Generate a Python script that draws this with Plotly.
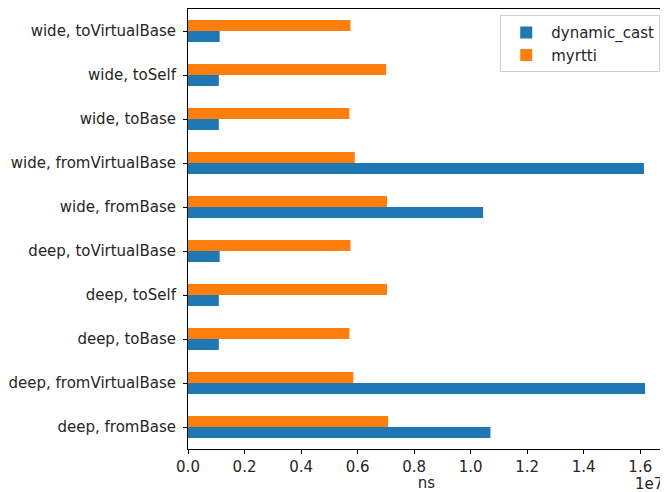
import plotly.graph_objects as go

categories = ["deep, fromBase", "deep, fromVirtualBase", "deep, toBase", "deep, toSelf",
              "deep, toVirtualBase", "wide, fromBase", "wide, fromVirtualBase", "wide, toBase",
              "wide, toSelf", "wide, toVirtualBase"]
dynamic_cast = [1.070e7, 1.617e7, 0.109e7, 0.109e7, 0.112e7,
                1.044e7, 1.613e7, 0.109e7, 0.109e7, 0.112e7]
myrtti = [0.708e7, 0.585e7, 0.571e7, 0.704e7, 0.575e7,
          0.704e7, 0.590e7, 0.571e7, 0.701e7, 0.575e7]
tick_vals = [0, 0.2e7, 0.4e7, 0.6e7, 0.8e7, 1.0e7, 1.2e7, 1.4e7, 1.6e7]
tick_text = ["0.0", "0.2", "0.4", "0.6", "0.8", "1.0", "1.2", "1.4", "1.6"]

font = "DejaVu Sans, sans-serif"
fs = 15

fig = go.Figure()
fig.add_trace(go.Bar(y=categories, x=dynamic_cast, orientation="h", name="dynamic_cast",
                     marker=dict(color="#1f77b4", line=dict(width=0))))
fig.add_trace(go.Bar(y=categories, x=myrtti, orientation="h", name="myrtti",
                     marker=dict(color="#ff7f0e", line=dict(width=0))))

# page body has an 8px margin, so the figure is sized 8px smaller
fig.update_layout(
    width=660, height=484,
    margin=dict(l=180, r=3, t=1, b=43),
    paper_bgcolor="white", plot_bgcolor="white",
    barmode="group", bargap=0.5, bargroupgap=0,
    font=dict(family=font, size=fs, color="#262626"),
    showlegend=True,
    legend=dict(x=0.99, y=0.986, xanchor="right", yanchor="top", traceorder="normal",
                bgcolor="rgba(255,255,255,0.8)", bordercolor="#d0d0d0", borderwidth=1,
                font=dict(size=fs, color="#262626"), itemwidth=40),
    xaxis=dict(range=[0, 1.6875e7], tickvals=tick_vals, ticktext=tick_text,
               ticks="outside", ticklen=4, tickcolor="black", showgrid=False, zeroline=False,
               showline=True, linecolor="black", linewidth=1, mirror=True,
               title=dict(text="ns", font=dict(size=fs), standoff=0)),
    yaxis=dict(categoryorder="array", categoryarray=categories, range=[-0.5, 9.5],
               ticks="outside", ticklen=4, tickcolor="black", showgrid=False, zeroline=False,
               showline=True, linecolor="black", linewidth=1, mirror=True,
               ticklabelstandoff=4),
)
fig.add_annotation(text="1e7", x=1, y=0, xref="paper", yref="paper", xanchor="right",
                   yanchor="top", yshift=-24, showarrow=False, font=dict(size=fs, color="#262626"))

fig.write_html("out.html")
